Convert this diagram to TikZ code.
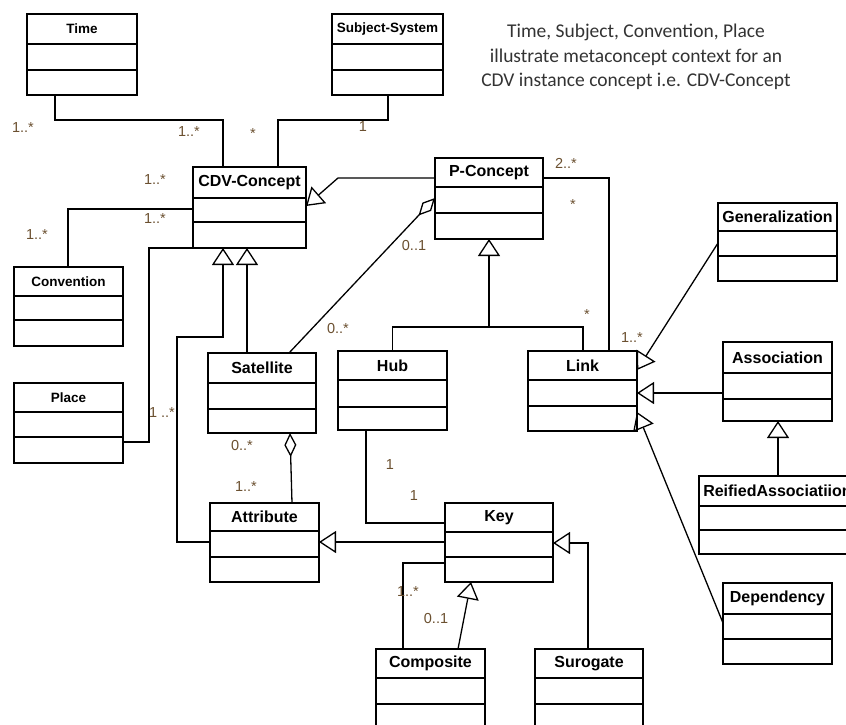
\documentclass[tikz,border=0pt]{standalone}
\usepackage{fontspec}
\usetikzlibrary{arrows.meta,calc}
\newfontfamily\arialf{Liberation Sans}
\newfontfamily\calibf{Carlito}
\definecolor{multc}{HTML}{6B5030}
\definecolor{notec}{HTML}{333333}
\newcommand\umlbox[9]{%
  \node[boxshape, minimum width={(#4-#2)*1pt}, minimum height={(#5-#3)*1pt}] (#1) at ({(#2+#4)/2},{(#3+#5)/2}) {};
  \draw[boxline] (#2,#6) -- (#4,#6) (#2,#7) -- (#4,#7);
  \node[titletext, font=#8] (#1-t) at ({(#2+#4)/2},{(#3+#6)/2}) {#9};
}
\tikzset{
  boxshape/.style={draw, rectangle, inner sep=0pt, outer sep=0pt, line width=1.4pt},
  boxline/.style={line width=1.4pt},
  titletext/.style={inner sep=0pt},
  conn/.style={line width=1.3pt},
  gen/.style={line width=1.3pt, -{Triangle[open, length=17pt, width=22pt, line width=1.3pt]}},
  agg/.style={line width=1.3pt, {Diamond[open, length=24pt, width=12pt, line width=1.3pt]}-},
  mult/.style={font=\arialf\fontsize{14.5}{16}\selectfont, text=multc, inner sep=0pt},
}
\newcommand\bigf{\arialf\bfseries\fontsize{16}{18}\selectfont}
\newcommand\smallf{\arialf\bfseries\fontsize{13.5}{15}\selectfont}
\begin{document}
\begin{tikzpicture}[x=1pt, y=-1pt]
\useasboundingbox (0,0) rectangle (846,724);
\clip (0,0) rectangle (846,724);
% classes
\umlbox{time}{27}{14}{137}{95}{44}{70}{\smallf}{Time}
\umlbox{ss}{332}{14}{443}{95}{44}{70}{\smallf}{Subject-System}
\umlbox{cdv}{193}{167}{306}{248}{198}{222}{\bigf}{CDV-Concept}
\umlbox{pc}{435}{158}{543}{239}{187}{213}{\bigf}{P-Concept}
\umlbox{gen}{718}{203}{837}{281}{231}{256}{\bigf}{Generalization}
\umlbox{conv}{14}{267}{123}{346}{296}{320}{\smallf}{Convention}
\umlbox{place}{14}{383}{123}{463}{412}{437}{\smallf}{Place}
\umlbox{sat}{208}{353}{316}{433}{383}{409}{\bigf}{Satellite}
\umlbox{hub}{338}{351}{447}{430}{380}{407}{\bigf}{Hub}
\umlbox{link}{528}{351}{637}{431}{380}{406}{\bigf}{Link}
\umlbox{assoc}{723}{342}{832}{421}{373}{399}{\bigf}{Association}
\umlbox{reif}{699}{476}{856}{554}{506}{530}{\bigf}{ReifiedAssociatiion}
\umlbox{dep}{723}{583}{832}{664}{614}{639}{\bigf}{Dependency}
\umlbox{attr}{210}{503}{319}{582}{531}{557}{\bigf}{Attribute}
\umlbox{key}{445}{503}{553}{582}{532}{557}{\bigf}{Key}
\umlbox{comp}{376}{649}{485}{740}{678}{704}{\bigf}{Composite}
\umlbox{sur}{535}{649}{643}{740}{678}{704}{\bigf}{Surogate}
% note
\node[font=\calibf\fontsize{19.5}{24.5}\selectfont, text=notec, align=center, inner sep=0pt] (note) at (636,57)
 {Time, Subject, Convention, Place\\illustrate metaconcept context for an\\CDV instance concept i.e. CDV-Concept};
% connectors
\draw[conn] (55,0 |- time.south) -- (55,120) -| (223,0 |- cdv.north);
\draw[conn] (388,0 |- ss.south) -- (388,120) -| (278,0 |- cdv.north);
\draw[conn] (cdv.west |- 0,209) -| (68,0 |- conv.north);
\draw[conn] (place.east |- 0,442) -| (149,248) -- (cdv.south west);
\draw[gen] (attr.west |- 0,542) -| (177,337) -| (223,0 |- cdv.south);
\draw[gen] (247,0 |- sat.north) -- (247,0 |- cdv.south);
\draw[gen] (pc.west |- 0,178) -- (338,178) -- (cdv.east |- 0,206);
\draw[agg] (pc.west |- 0,198) -- (289,0 |- sat.north);
\coordinate (hj) at (489,327);
\draw[conn] (hub.north) |- (583,327) -- (583,0 |- link.north);
\draw[gen] (hj) -- (489,0 |- pc.south);
\draw[conn] (pc.east |- 0,178) -| (609,0 |- link.north);
\draw[gen] (gen.west |- 0,243) -- (link.east |- 0,370);
\draw[gen] (assoc.west |- 0,393) -- (link.east |- 0,393);
\draw[gen] (dep.west |- 0,623) -- (link.east |- 0,412);
\draw[gen] (778,0 |- reif.north) -- (778,0 |- assoc.south);
\draw[agg] (290,0 |- sat.south) -- (292,0 |- attr.north);
\draw[gen] (key.west |- 0,542) -- (attr.east |- 0,542);
\draw[conn] (366,0 |- hub.south) |- (key.west |- 0,523);
\draw[conn] (403,0 |- comp.north) |- (key.west |- 0,563);
\draw[gen] (458,0 |- comp.north) -- (471,0 |- key.south);
\draw[gen] (588,0 |- sur.north) |- (key.east |- 0,543);
% multiplicities
\node[mult] (m1) at (23,128) {1..*};
\node[mult] (m2) at (189,132) {1..*};
\node[mult] (m3) at (253,134) {*};
\node[mult] (m4) at (363,127) {1};
\node[mult] (m5) at (155,180) {1..*};
\node[mult] (m6) at (155,219) {1..*};
\node[mult] (m7) at (37,235) {1..*};
\node[mult] (m8) at (566,163) {2..*};
\node[mult] (m9) at (573,205) {*};
\node[mult] (m10) at (414,246) {0..1};
\node[mult] (m11) at (338,328) {0..*};
\node[mult] (m12) at (587,315) {*};
\node[mult] (m13) at (632,338) {1..*};
\node[mult] (m14) at (162,413) {1 ..*};
\node[mult] (m15) at (242,445) {0..*};
\node[mult] (m16) at (246,487) {1..*};
\node[mult] (m17) at (390,465) {1};
\node[mult] (m18) at (414,496) {1};
\node[mult] (m19) at (408,591) {1..*};
\node[mult] (m20) at (436,618) {0..1};
\end{tikzpicture}
\end{document}
